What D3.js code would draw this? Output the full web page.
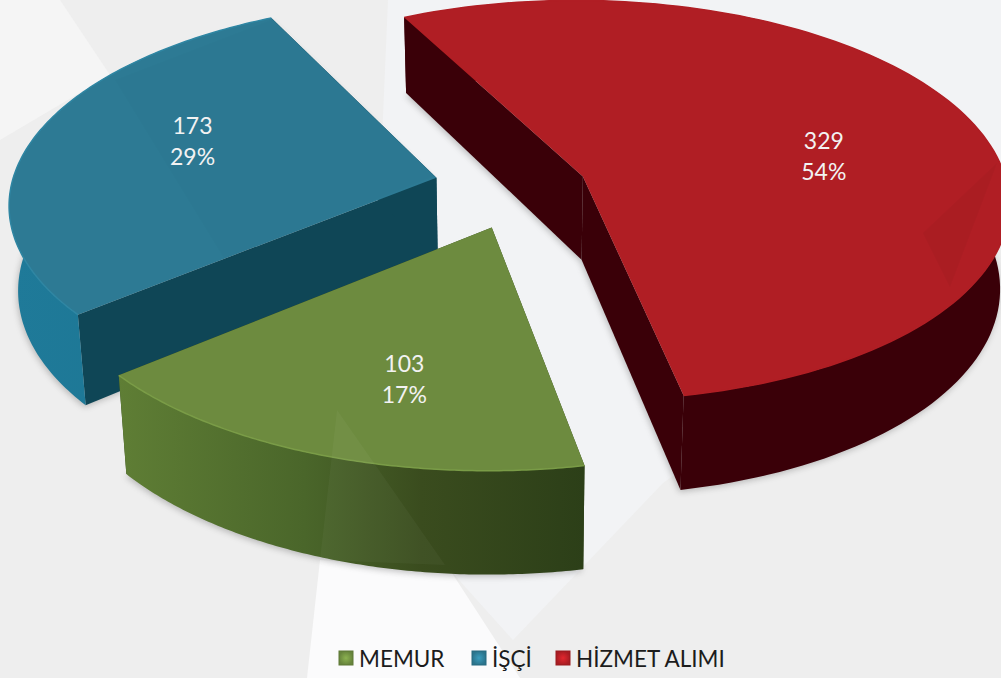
<!DOCTYPE html>
<html><head><meta charset="utf-8">
<script src="https://cdn.jsdelivr.net/npm/d3@7/dist/d3.min.js"></script>
<style>html,body{margin:0;padding:0;background:#eeeeee;overflow:hidden}svg{display:block}text{font-family:Lato,"Open Sans",sans-serif}</style>
</head><body><svg id="c" width="1001" height="678"></svg>
<script>
const categories = ["MEMUR","İŞÇİ","HİZMET ALIMI"];
const values = [103,173,329];
const percents = ["17%","29%","54%"];
const topColors = ["#6d8b3f","#2d7a94","#b01e24"];
const wallColors = ["#30441a","#0f4656","#3a0008"];
const edgeColors = ["#7a9c47","#2f86a3","#b01e24"];
const rimStops = [
  [["#5f7e35",0],["#4a662a",.4],["#3a4c1e",.65],["#2c3f18",1]],
  [["#1f7a99",0],["#1b7592",1]],
  [["#3a0008",0],["#3a0008",1]]
];
const legendX = [339,472,556];
const labelR = [.55,.6,.58];
const labelShift = [[0,36],[0,-13],[16,16]];
const sliceNudge = [[7,1],[0,-7],[0,-4]];
const sliceScale = [1.022,1,1];
const sliceDepth = [1.06,1,1];
const W=1001,H=678;
const cx=511, cy=192, R=425, g=.47, k=.12, explode=.18, depth=84;
const svg=d3.select("#c");
const defs=svg.append("defs");
svg.append("rect").attr("width",W).attr("height",H).attr("fill","#eeeeee");
const bgPolys=[
 [[388,0],[1001,0],[1001,240],[663,483],[513,640],[450,570],[370,420]],
 [[0,0],[60,0],[110,75],[0,140]],
 [[320,560],[450,570],[520,678],[307,678]]];
const bgFill=["#f2f3f5","#f5f5f5","#fbfbfc"];
svg.selectAll("polygon.bg").data(bgPolys).join("polygon").attr("class","bg")
  .attr("points",d=>d.join(" ")).attr("fill",(d,i)=>bgFill[i]);
const shadow=defs.append("filter").attr("id","sh").attr("x","-10%").attr("y","-10%").attr("width","120%").attr("height","120%");
shadow.append("feGaussianBlur").attr("stdDeviation",3);
const pie=d3.pie().sort(null).startAngle(169*Math.PI/180).endAngle((169+360)*Math.PI/180);
const arcs=pie(values);
function proj(px,py,z){
  const w=1-k*py;
  const s=1-.018*z;
  return [cx+(R*px/w)*s, cy+R*g*py/w+z*depth/w];
}
const line=d3.line();
const order=[2,1,0];
order.forEach(i=>{
  const a=arcs[i];
  const mid=(a.startAngle+a.endAngle)/2;
  const ox=explode*Math.sin(mid), oy=-explode*Math.cos(mid);
  const angs=d3.range(0,121).map(t=>a.startAngle+(a.endAngle-a.startAngle)*t/120);
  const ss=sliceScale[i], dz=sliceDepth[i];
  const P=(th,r,z)=>proj(ox+ss*r*Math.sin(th),oy-ss*r*Math.cos(th),z*dz);
  const topPts=[P(0,0,0),...angs.map(t=>P(t,1,0))];
  const botPts=[P(0,0,1),...angs.map(t=>P(t,1,1))];
  const gr=svg.append("g").attr("transform",`translate(${sliceNudge[i]})`);
  gr.append("path").attr("d",line(botPts)+"Z").attr("fill","#555").attr("opacity",.35).attr("filter","url(#sh)")
    .attr("transform","translate(-1,2)");
  [a.startAngle,a.endAngle].forEach(t=>{
    gr.append("path").attr("d",line([P(0,0,0),P(t,1,0),P(t,1,1),P(0,0,1)])+"Z").attr("fill",wallColors[i]);
  });
  const gid="rim"+i;
  const xs=angs.map(t=>P(t,1,0)[0]);
  const lg=defs.append("linearGradient").attr("id",gid).attr("gradientUnits","userSpaceOnUse")
    .attr("x1",d3.min(xs)).attr("x2",d3.max(xs)).attr("y1",0).attr("y2",0);
  rimStops[i].forEach(s=>lg.append("stop").attr("offset",s[1]).attr("stop-color",s[0]));
  const rim=[...angs.map(t=>P(t,1,0)),...angs.slice().reverse().map(t=>P(t,1,1))];
  gr.append("path").attr("d",line(rim)+"Z").attr("fill",`url(#${gid})`);
  gr.append("path").attr("d",line(topPts)+"Z").attr("fill",topColors[i]);
  gr.append("path").attr("d",line(angs.map(t=>P(t,1,0)))).attr("fill","none").attr("stroke",edgeColors[i]).attr("stroke-width",1.5);
});
const facets=[
 {p:[[337,410],[320,560],[445,565]],c:"#fff",o:.035},
 {p:[[997,163],[923,233],[950,287]],c:"#000",o:.03},
 {p:[[115,80],[225,260],[437,175],[276,18]],c:"#000",o:.012}
];
svg.selectAll("polygon.facet").data(facets).join("polygon").attr("class","facet")
  .attr("points",d=>d.p.join(" ")).attr("fill",d=>d.c).attr("opacity",d=>d.o);
arcs.forEach((a,i)=>{
  const mid=(a.startAngle+a.endAngle)/2;
  const ox=explode*Math.sin(mid), oy=-explode*Math.cos(mid), r=labelR[i];
  const L=proj(ox+r*Math.sin(mid),oy-r*Math.cos(mid),0);
  const lx=L[0]+labelShift[i][0]+sliceNudge[i][0], ly=L[1]+labelShift[i][1]+sliceNudge[i][1];
  const t=svg.append("text").attr("x",lx).attr("y",ly).attr("text-anchor","middle").attr("fill","#f2f2f2").attr("font-size",23);
  t.append("tspan").attr("x",lx).attr("dy",-7).text(values[i]);
  t.append("tspan").attr("x",lx).attr("dy",31).text(percents[i]);
});
categories.forEach((c,i)=>{
  const x=legendX[i], base=d3.color(topColors[i]);
  const rg=defs.append("radialGradient").attr("id","sw"+i);
  rg.append("stop").attr("offset",0).attr("stop-color",base.brighter(.7));
  rg.append("stop").attr("offset",1).attr("stop-color",base.darker(.15));
  svg.append("rect").attr("x",x).attr("y",651).attr("width",14).attr("height",14).attr("fill",`url(#sw${i})`).attr("stroke",base.darker(.4)).attr("stroke-width",1);
  svg.append("text").attr("x",x+20).attr("y",667).attr("font-size",22.5).attr("fill","#1c1c1c").text(c);
});
</script></body></html>
